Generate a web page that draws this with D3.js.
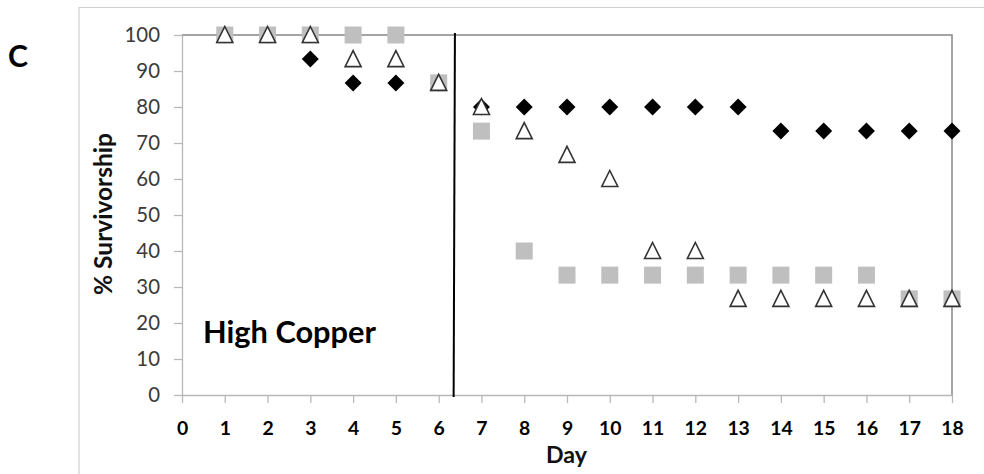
<!DOCTYPE html>
<html>
<head>
<meta charset="utf-8">
<script src="https://cdn.jsdelivr.net/npm/d3@7"></script>
<style>
  html, body { margin: 0; padding: 0; background: #fff; }
  svg { display: block; }
</style>
</head>
<body>
<svg id="chart" width="984" height="474"></svg>
<script>
// Days of observation and % survivorship for each treatment group
const days = [1, 2, 3, 4, 5, 6, 7, 8, 9, 10, 11, 12, 13, 14, 15, 16, 17, 18];
const diamondSeries = [100, 100, 93.3, 86.7, 86.7, 86.7, 80, 80, 80, 80, 80, 80, 80, 73.3, 73.3, 73.3, 73.3, 73.3];
const squareSeries  = [100, 100, 100, 100, 100, 86.7, 73.3, 40, 33.3, 33.3, 33.3, 33.3, 33.3, 33.3, 33.3, 33.3, 26.7, 26.7];
const triangleSeries = [100, 100, 100, 93.3, 93.3, 86.7, 80, 73.3, 66.7, 60, 40, 40, 26.7, 26.7, 26.7, 26.7, 26.7, 26.7];

const xTicks = d3.range(0, 19);
const yTicks = d3.range(0, 101, 10);

// Day at which the copper exposure changes (divider line, top and bottom ends)
const dividerDay = [6.38, 6.35];

const panelLabel = "C";
const treatmentLabel = "High Copper";
const xTitle = "Day";
const yTitle = "% Survivorship";

const svg = d3.select("#chart");
const font = "Lato, 'Open Sans', sans-serif";

// scale a text's font size so its rendered width equals the given width
function fitWidth(sel, width) {
  const node = sel.node();
  const size = parseFloat(sel.attr("font-size"));
  const w = node.getComputedTextLength();
  if (w > 0) sel.attr("font-size", size * width / w);
  return sel;
}

const m = { left: 182, right: 952, top: 35, bottom: 395 };
const x = d3.scaleLinear().domain([0, 18]).range([m.left, m.right]);
const y = d3.scaleLinear().domain([0, 100]).range([m.bottom, m.top]);

// outer chart frame
svg.append("path")
  .attr("d", `M79,474 V7.5 H984`)
  .attr("fill", "none").attr("stroke", "#d0d0d0").attr("stroke-width", 1.2);

// panel letter
fitWidth(svg.append("text")
  .attr("x", 8).attr("y", 67)
  .attr("font-family", font).attr("font-weight", 700).attr("font-size", 28)
  .attr("fill", "#000").text(panelLabel), 20);

// plot frame (top and right)
svg.append("path")
  .attr("d", `M${m.left},${y(100)} H${x(18)} V${y(0)}`)
  .attr("fill", "none").attr("stroke", "#868686").attr("stroke-width", 1.5);

// y axis
const yAxis = svg.append("g")
  .attr("transform", `translate(${m.left},0)`)
  .call(d3.axisLeft(y).tickValues(yTicks).tickSize(8).tickSizeOuter(0).tickPadding(14));
yAxis.select(".domain").attr("stroke", "#b8b8b8").attr("stroke-width", 1.3);
yAxis.selectAll(".tick line").attr("stroke", "#b8b8b8").attr("stroke-width", 1.3);
const yLabels = yAxis.selectAll(".tick text")
  .attr("font-family", font).attr("font-size", 20).attr("fill", "#3a3a3a");
{
  const top = yLabels.filter(d => d === 100);
  fitWidth(top, 35.5);
  yLabels.attr("font-size", top.attr("font-size"));
}

// x axis
const xAxis = svg.append("g")
  .attr("transform", `translate(0,${m.bottom})`)
  .call(d3.axisBottom(x).tickValues(xTicks).tickSize(8).tickSizeOuter(0).tickPadding(10));
xAxis.select(".domain").attr("stroke", "#b8b8b8").attr("stroke-width", 1.3);
xAxis.selectAll(".tick line").attr("stroke", "#b8b8b8").attr("stroke-width", 1.3);
const xLabels = xAxis.selectAll(".tick text")
  .attr("font-family", font).attr("font-weight", 700).attr("font-size", 20).attr("fill", "#000")
  .attr("dy", null).attr("y", 39.5);
{
  const last = xLabels.filter(d => d === 18);
  fitWidth(last, 22.5);
  xLabels.attr("font-size", last.attr("font-size"));
}

// axis titles
fitWidth(svg.append("text")
  .attr("x", 566.5).attr("y", 463)
  .attr("text-anchor", "middle")
  .attr("font-family", font).attr("font-weight", 700).attr("font-size", 20)
  .attr("fill", "#111").text(xTitle), 41);

fitWidth(svg.append("text")
  .attr("transform", `translate(112,214) rotate(-90)`)
  .attr("text-anchor", "middle")
  .attr("font-family", font).attr("font-weight", 700).attr("font-size", 20)
  .attr("fill", "#111").text(yTitle), 162);

// treatment label
fitWidth(svg.append("text")
  .attr("x", 203).attr("y", 343)
  .attr("font-family", font).attr("font-weight", 700).attr("font-size", 30)
  .attr("fill", "#000").text(treatmentLabel), 173);

// divider line
svg.append("line")
  .attr("x1", x(dividerDay[0])).attr("y1", y(100) - 2)
  .attr("x2", x(dividerDay[1])).attr("y2", y(0) + 2)
  .attr("stroke", "#000").attr("stroke-width", 2);

// markers: diamonds, then squares, then open triangles on top
svg.append("g").selectAll("path")
  .data(days.map((d, i) => [d, diamondSeries[i]]))
  .join("path")
  .attr("transform", d => `translate(${x(d[0])},${y(d[1])})`)
  .attr("d", "M0,-8.5 L8.5,0 L0,8.5 L-8.5,0 Z")
  .attr("fill", "#000");

svg.append("g").selectAll("rect")
  .data(days.map((d, i) => [d, squareSeries[i]]))
  .join("rect")
  .attr("x", d => x(d[0]) - 8.5).attr("y", d => y(d[1]) - 8.5)
  .attr("width", 17).attr("height", 17)
  .attr("fill", "#bfbfbf");

svg.append("g").selectAll("path")
  .data(days.map((d, i) => [d, triangleSeries[i]]))
  .join("path")
  .attr("transform", d => `translate(${x(d[0])},${y(d[1])})`)
  .attr("d", "M0,-8.5 L8,7.5 L-8,7.5 Z")
  .attr("fill", "#fff").attr("stroke", "#333").attr("stroke-width", 1.6)
  .attr("stroke-linejoin", "miter");
</script>
</body>
</html>
